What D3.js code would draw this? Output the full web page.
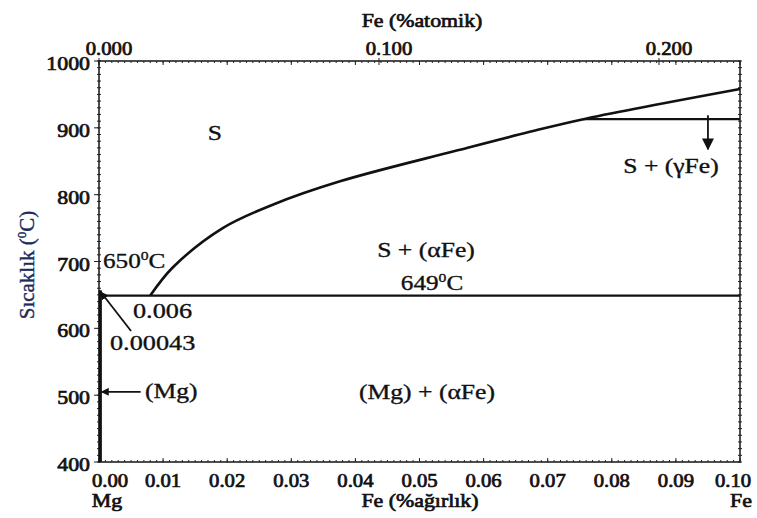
<!DOCTYPE html>
<html>
<head>
<meta charset="utf-8">
<script src="https://cdn.jsdelivr.net/npm/d3@7"></script>
<style>
  body { margin: 0; background: #fff; }
  svg text { font-family: "Liberation Serif", "Times New Roman", serif; fill: #111; }
</style>
</head>
<body>
<svg id="chart" width="757" height="518"></svg>
<script>
// bottom axis: Fe wt%, left axis: temperature
var wtTicks = [0.00, 0.01, 0.02, 0.03, 0.04, 0.05, 0.06, 0.07, 0.08, 0.09, 0.10];
var atTicks = [0.000, 0.100, 0.200];
var tempTicks = [400, 500, 600, 700, 800, 900, 1000];

// liquidus S / S+(aFe) boundary
var liquidusWt = [0.0080, 0.0115, 0.0193, 0.0271, 0.0376, 0.0558, 0.0672, 0.0761, 0.10];
var liquidusT  = [649, 691, 750, 785, 820, 866, 894, 914, 958];

// horizontal reaction lines
var eutecticWt = [0.0, 0.10];
var eutecticT  = [649, 649];
var gammaWt = [0.0755, 0.10];
var gammaT  = [913, 913];

// Mg solvus (almost on the axis)
var solvusWt = [0.0002, 0.0002];
var solvusT  = [657, 400];

var svg = d3.select('#chart');
var margin = {left: 99, top: 61, right: 17, bottom: 56};
var W = 757, H = 518;

var x = d3.scaleLinear().domain([0, 0.10]).range([margin.left, W - margin.right]);
var xAt = d3.scaleLinear().domain([0, 0.100]).range([margin.left, margin.left + 280]);
var y = d3.scaleLinear().domain([400, 1000]).range([H - margin.bottom, margin.top]);

function label(g, px, py, txt, size, sx, anchor, sup) {
    var t = g.append('text')
        .attr('transform', 'translate(' + px + ',' + py + ') scale(' + sx + ',1)')
        .attr('font-size', size)
        .attr('text-anchor', anchor || 'start')
        .style('stroke', '#111').style('stroke-width', 0.35)
        .text(txt);
    if (sup) {
        t.append('tspan').attr('font-size', size * 0.62).attr('dy', -size * 0.38).text(sup);
        t.append('tspan').attr('dy', size * 0.38).text('C');
    }
    return t;
}

// minor ticks (the dotted look of the frame)
var minorX = d3.range(0, 0.1001, 0.001);
var minorY = d3.range(400, 1001, 10);
var ticksG = svg.append('g').attr('stroke', '#222').attr('stroke-width', 1);
ticksG.selectAll('.mb').data(minorX).enter().append('line')
    .attr('x1', d => x(d)).attr('x2', d => x(d))
    .attr('y1', y(400)).attr('y2', y(400) - 2);
ticksG.selectAll('.mt').data(minorX).enter().append('line')
    .attr('x1', d => x(d)).attr('x2', d => x(d))
    .attr('y1', y(1000)).attr('y2', y(1000) + 2);
ticksG.selectAll('.ml').data(minorY).enter().append('line')
    .attr('x1', x(0) - 2).attr('x2', x(0) + 2)
    .attr('y1', d => y(d)).attr('y2', d => y(d));
ticksG.selectAll('.mr').data(minorY).enter().append('line')
    .attr('x1', x(0.1) - 2).attr('x2', x(0.1) + 2)
    .attr('y1', d => y(d)).attr('y2', d => y(d));
// medium ticks at every 0.01
ticksG.selectAll('.tb').data(wtTicks).enter().append('line')
    .attr('x1', d => x(d)).attr('x2', d => x(d))
    .attr('y1', y(400)).attr('y2', y(400) - 4);
ticksG.selectAll('.tt').data(wtTicks).enter().append('line')
    .attr('x1', d => x(d)).attr('x2', d => x(d))
    .attr('y1', y(1000)).attr('y2', y(1000) + 4);
ticksG.selectAll('.tl').data(tempTicks).enter().append('line')
    .attr('x1', x(0) - 5).attr('x2', x(0))
    .attr('y1', d => y(d)).attr('y2', d => y(d));
ticksG.selectAll('.ta').data(atTicks).enter().append('line')
    .attr('x1', d => xAt(d)).attr('x2', d => xAt(d))
    .attr('y1', y(1000) - 3).attr('y2', y(1000) + 4);

// frame
svg.append('rect')
    .attr('x', x(0)).attr('y', y(1000))
    .attr('width', x(0.1) - x(0)).attr('height', y(400) - y(1000))
    .attr('fill', 'none').attr('stroke', '#222').attr('stroke-width', 1.6);

// tick labels
var tl = svg.append('g');
wtTicks.forEach(function (d, i) {
    var dx = i == 0 ? 11 : (i == wtTicks.length - 1 ? -7 : 0);
    label(tl, x(d) + dx, 487, d.toFixed(2), 18, 1.15, 'middle').style('stroke-width', 0.7);
});
atTicks.forEach(function (d) {
    label(tl, xAt(d) + 10, 55, d.toFixed(3), 18, 1.15, 'middle').style('stroke-width', 0.7);
});
tempTicks.forEach(function (d) {
    label(tl, 90, y(d) + 9, String(d), 19, 1.15, 'end').style('stroke-width', 0.7);
});

// axis titles
label(svg, 422, 27, 'Fe (%atomik)', 19, 1.15, 'middle').style('stroke-width', 0.7);
label(svg, 420, 507, 'Fe (%ağırlık)', 19, 1.15, 'middle').style('stroke-width', 0.7);
label(svg, 107, 507, 'Mg', 19, 1.15, 'middle').style('stroke-width', 0.7);
label(svg, 741, 507, 'Fe', 19, 1.15, 'middle').style('stroke-width', 0.7);
svg.append('text')
    .attr('transform', 'translate(34,265) rotate(-90)')
    .attr('text-anchor', 'middle')
    .attr('font-size', 21)
    .style('fill', '#1d2b5e').style('stroke', '#1d2b5e').style('stroke-width', 0.4)
    .text('Sıcaklık (')
    .call(function (t) {
        t.append('tspan').attr('font-size', 13).attr('dy', -8).text('0');
        t.append('tspan').attr('dy', 8).text('C)');
    });

// phase boundaries
var line = d3.line().x(d => x(d[0])).y(d => y(d[1]));
var lines = svg.append('g').attr('fill', 'none').attr('stroke', '#111');
lines.append('path')
    .datum(d3.zip(liquidusWt, liquidusT))
    .attr('stroke-width', 2.6)
    .attr('d', d3.line().x(d => x(d[0])).y(d => y(d[1])).curve(d3.curveCatmullRom.alpha(0.5)));
lines.append('path')
    .datum(d3.zip(eutecticWt, eutecticT))
    .attr('stroke-width', 2.2)
    .attr('d', line);
lines.append('path')
    .datum(d3.zip(gammaWt, gammaT))
    .attr('stroke-width', 2.2)
    .attr('d', line);
lines.append('path')
    .datum(d3.zip(solvusWt, solvusT))
    .attr('stroke-width', 3.2)
    .attr('d', line);

// pointers with arrowheads
svg.append('defs').append('marker')
    .attr('id', 'head').attr('viewBox', '0 0 10 10')
    .attr('refX', 9).attr('refY', 5)
    .attr('markerWidth', 8).attr('markerHeight', 8)
    .attr('markerUnits', 'userSpaceOnUse')
    .attr('orient', 'auto')
    .append('path').attr('d', 'M0,0L10,5L0,10Z').attr('fill', '#111');
svg.select('defs').append('marker')
    .attr('id', 'headBig').attr('viewBox', '0 0 10 10')
    .attr('refX', 9).attr('refY', 5)
    .attr('markerWidth', 12).attr('markerHeight', 12)
    .attr('markerUnits', 'userSpaceOnUse')
    .attr('orient', 'auto')
    .append('path').attr('d', 'M0,0L10,5L0,10Z').attr('fill', '#111');

var arrows = [
    {from: [0.0050, 596], to: [0.0003, 654], m: 'head'},
    {from: [0.0065, 505], to: [0.0004, 505], m: 'head'},
    {from: [0.0950, 919], to: [0.0950, 868], m: 'headBig'}
];
svg.append('g').selectAll('line').data(arrows).enter().append('line')
    .attr('x1', d => x(d.from[0])).attr('y1', d => y(d.from[1]))
    .attr('x2', d => x(d.to[0])).attr('y2', d => y(d.to[1]))
    .attr('stroke', '#111').attr('stroke-width', 1.8)
    .attr('marker-end', d => 'url(#' + d.m + ')');

// region labels
var lab = svg.append('g');
label(lab, 215, 140, 'S', 21, 1.22, 'middle');
label(lab, 426, 257, 'S + (αFe)', 21, 1.22, 'middle');
label(lab, 432, 290, '649', 21, 1.2, 'middle', '0');
label(lab, 103, 268, '650', 21, 1.2, 'start', '0');
label(lab, 133, 318, '0.006', 21, 1.25, 'start');
label(lab, 110, 350, '0.00043', 21, 1.25, 'start');
label(lab, 145, 398, '(Mg)', 21, 1.22, 'start');
label(lab, 427, 399, '(Mg) + (αFe)', 21, 1.22, 'middle');
label(lab, 671, 173, 'S + (γFe)', 21, 1.22, 'middle');
</script>
</body>
</html>
